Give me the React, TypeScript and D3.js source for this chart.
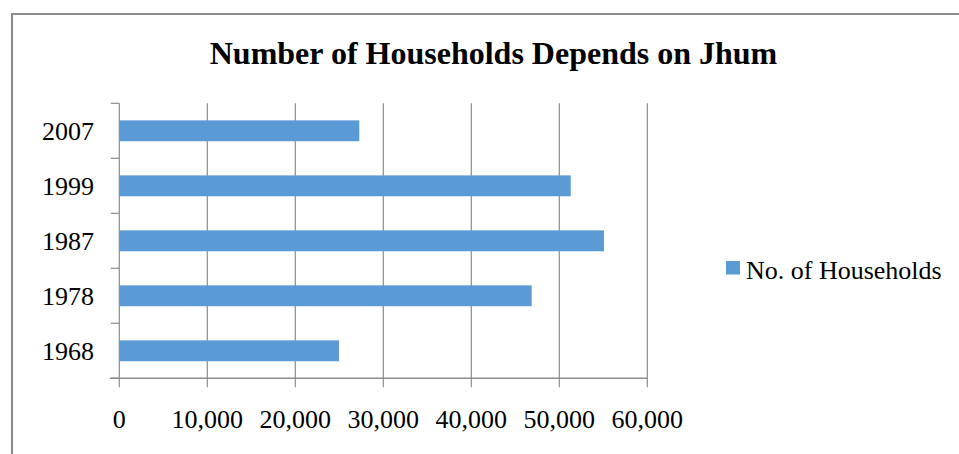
import React from "react";
import * as d3 from "d3";

const years: string[] = ["2007", "1999", "1987", "1978", "1968"];
const households: number[] = [27270, 51300, 55080, 46860, 24970];
const xTicks: number[] = [0, 10000, 20000, 30000, 40000, 50000, 60000];
const title = "Number of Households Depends on Jhum";
const seriesName = "No. of Households";

const W = 959;
const H = 454;
const plot = { left: 119.3, right: 647.3, top: 103.3, bottom: 378.3 };
const barColor = "#5B9BD5";
const gridColor = "#8C8C8C";
const font = "'Liberation Serif', 'Times New Roman', serif";

export default function App() {
  const x = d3.scaleLinear().domain([0, 60000]).range([plot.left, plot.right]);
  const y = d3
    .scaleBand<string>()
    .domain(years)
    .range([plot.top, plot.bottom])
    .paddingInner(0.62)
    .paddingOuter(0.31);
  const fmt = d3.format(",");
  const step = y.step();
  const bandEdges = d3.range(years.length + 1).map((i) => plot.top + i * step);

  return (
    <svg
      width={W}
      height={H}
      style={{ position: "absolute", left: 0, top: 0, background: "#fff" }}
      fontFamily={font}
    >
      <rect x={0} y={0} width={W} height={H} fill="#fff" />
      <rect x={12} y={14} width={W + 10} height={H + 10} fill="none" stroke="#8a8a8a" strokeWidth={2} />
      <text x={493.5} y={63.5} textAnchor="middle" fontSize={32} fontWeight="bold" fill="#000">
        {title}
      </text>
      {/* gridlines */}
      {xTicks.map((t) => (
        <line key={"g" + t} x1={x(t)} x2={x(t)} y1={plot.top} y2={plot.bottom + 9} stroke={gridColor} strokeWidth={1.2} />
      ))}
      {/* y axis ticks */}
      {bandEdges.map((e, i) => (
        <line key={"yt" + i} x1={plot.left - 8.6} x2={plot.left} y1={e} y2={e} stroke={gridColor} strokeWidth={1.2} />
      ))}
      {/* x axis */}
      <line x1={plot.left - 9.4} x2={plot.right} y1={plot.bottom} y2={plot.bottom} stroke={gridColor} strokeWidth={1.5} />
      {/* bars */}
      {years.map((yr, i) => (
        <rect
          key={yr}
          x={x(0)}
          y={y(yr)!}
          width={x(households[i]) - x(0)}
          height={y.bandwidth()}
          fill={barColor}
        />
      ))}
      {/* y labels */}
      {years.map((yr) => (
        <text key={"yl" + yr} x={94} y={y(yr)! + y.bandwidth() / 2 + 9.5} textAnchor="end" fontSize={26} fill="#000">
          {yr}
        </text>
      ))}
      {/* x labels */}
      {xTicks.map((t) => (
        <text key={"xl" + t} x={x(t)} y={428} textAnchor="middle" fontSize={26} fill="#000">
          {fmt(t)}
        </text>
      ))}
      {/* legend */}
      <rect x={726} y={261} width={14} height={13.5} fill={barColor} />
      <text x={746} y={279.3} fontSize={26} fill="#000">
        {seriesName}
      </text>
    </svg>
  );
}
